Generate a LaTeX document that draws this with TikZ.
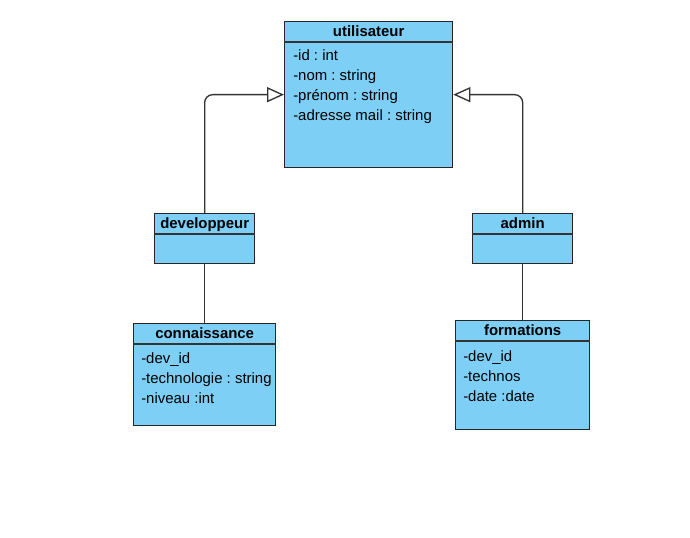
\documentclass[tikz,border=0pt]{standalone}
\usepackage{fontspec}
\setmainfont{Liberation Sans}
\frenchspacing
\usetikzlibrary{arrows.meta,calc}
\definecolor{classblue}{RGB}{125,207,245}
\tikzset{
    classbox/.style={draw=black!85, fill=classblue, line width=1pt, anchor=north west, inner sep=0pt},
    classtitle/.style={font=\fontsize{11.2}{15}\selectfont\bfseries, anchor=base, inner sep=0pt},
    attr/.style={font=\fontsize{11.2}{15}\selectfont, anchor=base west, inner sep=0pt},
    inherit/.style={draw=black!80, line width=1pt, rounded corners=6pt, -{Triangle[open, fill=white, length=12.75pt, width=11.25pt]}},
    link/.style={draw=black!80, line width=1pt}
}
\begin{document}
\begin{tikzpicture}[x=0.75pt, y=-0.75pt]
        \useasboundingbox (0,0) rectangle (690,538);
        % class boxes with their header line
        \foreach \n/\x/\y/\w/\h/\t in {user/284/21/168/146/utilisateur, dev/154/213/100/50/developpeur,
            admin/472/213/100/50/admin, know/133/323/142/102/connaissance, train/455/320/134/109/formations}
        {%
            \node[classbox, minimum width=0.75*\w pt, minimum height=0.75*\h pt] (\n) at (\x,\y) {};
            \draw[link] ($(\n.north west)+(0,21)$) -- ($(\n.north east)+(0,21)$);
            \node[classtitle] (\n-title) at ($(\n.north)+(0,15.5)$) {\t};
        }
        % attributes, one line every 20px
        \foreach \n/\dx/\dy/\lines in {user/9/40/{-id : int,-nom : string,-prénom : string,-adresse mail : string},
            know/8/41/{-dev\_id,-technologie : string,-niveau :int},
            train/8/42/{-dev\_id,-technos,-date :date}}
        {%
            \foreach \a [count=\i] in \lines
                \node[attr] (\n-attr-\i) at ($(\n.north west)+(\dx,\dy+20*\i-20)$) {\a};
        }
        % connectors
        \draw[inherit] (dev.north) |- (user.west);
        \draw[inherit] (admin.north) |- (user.east);
        \draw[link] (dev.south) -- (know.north);
        \draw[link] (admin.south) -- (train.north);
\end{tikzpicture}
\end{document}
